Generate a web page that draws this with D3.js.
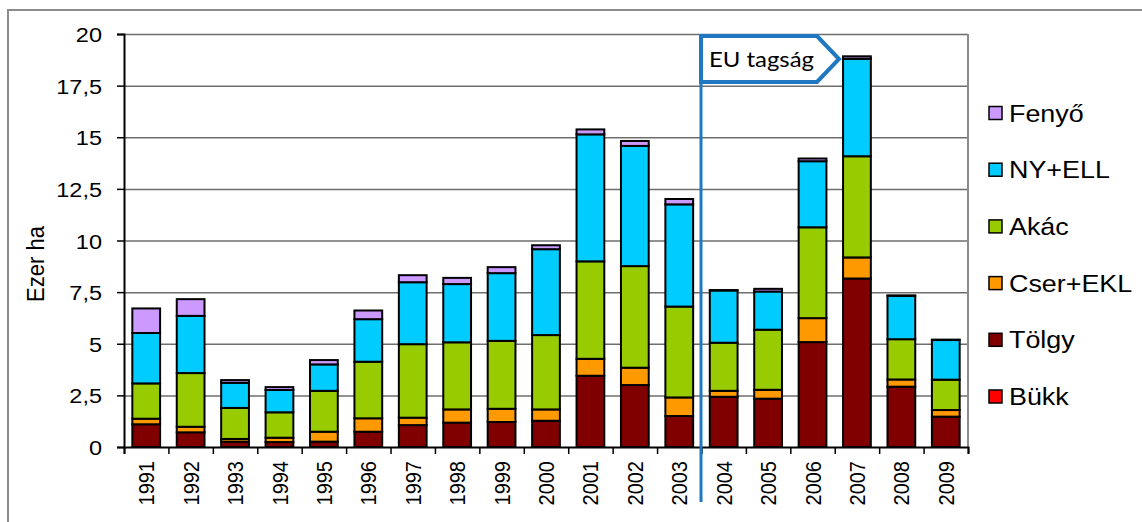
<!DOCTYPE html>
<html>
<head>
<meta charset="utf-8">
<script src="https://cdn.jsdelivr.net/npm/d3@7"></script>
<style>
  body { margin: 0; background: #fff; }
  svg { display: block; font-family: "Liberation Sans", Arial, sans-serif; }
</style>
</head>
<body>
<svg width="1142" height="522"></svg>
<script>
// years on the x axis
const years = ["1991","1992","1993","1994","1995","1996","1997","1998","1999","2000",
               "2001","2002","2003","2004","2005","2006","2007","2008","2009"];

// series values, thousand ha
const bukk  = [0,0,0,0,0,0,0,0,0,0,0,0,0,0,0,0,0,0,0];
const tolgy = [1.10,0.71,0.26,0.24,0.26,0.74,1.06,1.18,1.21,1.27,3.45,3.00,1.50,2.43,2.34,5.08,8.16,2.92,1.47];
const cser  = [0.27,0.27,0.13,0.21,0.48,0.65,0.36,0.64,0.64,0.55,0.82,0.84,0.90,0.29,0.43,1.16,1.02,0.35,0.32];
const akac  = [1.71,2.60,1.50,1.23,1.98,2.74,3.56,3.25,3.29,3.60,4.72,4.92,4.40,2.33,2.91,4.40,4.90,1.95,1.47];
const nyell = [2.44,2.77,1.22,1.08,1.28,2.06,3.00,2.82,3.28,4.16,6.15,5.82,4.95,2.53,1.85,3.20,4.72,2.10,1.92];
const fenyo = [1.19,0.81,0.13,0.14,0.21,0.42,0.34,0.30,0.29,0.19,0.24,0.24,0.26,0.02,0.13,0.13,0.12,0.02,0.02];

const yTicks = [0, 2.5, 5, 7.5, 10, 12.5, 15, 17.5, 20];

// bottom to top
const seriesNames  = ["Bükk", "Tölgy", "Cser+EKL", "Akác", "NY+ELL", "Fenyő"];
const seriesValues = [bukk, tolgy, cser, akac, nyell, fenyo];
const seriesColors = ["#ff0000", "#800000", "#ff9900", "#99cc00", "#00ccff", "#cc99ff"];

const table = years.map((yr, i) => {
  const row = { year: yr };
  seriesNames.forEach((n, k) => row[n] = seriesValues[k][i]);
  return row;
});

const plotL = 124, plotR = 968, plotT = 34, plotB = 447;
const sx = 1.12; // picture is a bit wider than tall

const svg = d3.select("svg");

// outer frame
svg.append("rect")
   .attr("x", 8).attr("y", 10)
   .attr("width", 1150).attr("height", 530)
   .attr("fill", "none")
   .attr("stroke", "#8c8c8c")
   .attr("stroke-width", 2);

const x = d3.scaleBand()
            .domain(years)
            .range([plotL, plotR])
            .paddingInner(0.375)
            .paddingOuter(0.1875);

const y = d3.scaleLinear()
            .domain([0, 20])
            .range([plotB, plotT]);

const color = d3.scaleOrdinal().domain(seriesNames).range(seriesColors);

// gridlines
svg.append("g")
   .attr("transform", `translate(${plotL},0)`)
   .call(d3.axisLeft(y).tickValues(yTicks.slice(1)).tickSize(-(plotR - plotL)).tickFormat(""))
   .call(g => g.select(".domain").remove())
   .call(g => g.selectAll("line").attr("stroke", "#6e6e6e").attr("stroke-width", 1.5));

// plot area right edge
svg.append("line")
   .attr("x1", plotR).attr("x2", plotR)
   .attr("y1", plotT).attr("y2", plotB)
   .attr("stroke", "#8c8c8c").attr("stroke-width", 2);

// stacked bars
const stacked = d3.stack().keys(seriesNames)(table);

svg.append("g")
   .selectAll("g")
   .data(stacked)
   .join("g")
   .attr("fill", d => color(d.key))
   .selectAll("rect")
   .data(d => d)
   .join("rect")
   .attr("x", d => x(d.data.year))
   .attr("y", d => y(d[1]))
   .attr("width", x.bandwidth())
   .attr("height", d => y(d[0]) - y(d[1]))
   .attr("stroke", "#000")
   .attr("stroke-width", 2);

// y axis
svg.append("g")
   .attr("transform", `translate(${plotL},0)`)
   .call(d3.axisLeft(y).tickValues(yTicks).tickSize(7).tickFormat(d => String(d).replace(".", ",")))
   .call(g => g.select(".domain").attr("stroke", "#000").attr("stroke-width", 2))
   .call(g => g.selectAll(".tick line").attr("stroke", "#000").attr("stroke-width", 1.5))
   .call(g => g.selectAll("text")
               .attr("x", 0)
               .attr("dy", "0.36em")
               .attr("transform", `translate(-22,0) scale(${sx},1)`)
               .attr("fill", "#000")
               .style("font-size", "21px")
               .style("font-family", "Liberation Sans, Arial, sans-serif"));

// x axis: tick marks between categories
const xb = d3.scaleLinear().domain([0, years.length]).range([plotL, plotR]);
svg.append("g")
   .attr("transform", `translate(0,${plotB})`)
   .call(d3.axisBottom(xb).ticks(years.length).tickSize(7).tickFormat(""))
   .call(g => g.select(".domain").attr("stroke", "#000").attr("stroke-width", 2))
   .call(g => g.selectAll(".tick line").attr("stroke", "#000").attr("stroke-width", 1.5));

// x axis: year labels
svg.append("g")
   .attr("transform", `translate(0,${plotB})`)
   .call(d3.axisBottom(x).tickSize(0))
   .call(g => g.select(".domain").remove())
   .call(g => g.selectAll("text")
               .attr("y", 0)
               .attr("dy", "0.36em")
               .attr("text-anchor", "end")
               .attr("transform", `translate(0,14) scale(${sx},1) rotate(-90)`)
               .attr("fill", "#000")
               .style("font-size", "20px")
               .style("font-family", "Liberation Sans, Arial, sans-serif"));

// y title
svg.append("text")
   .attr("transform", `translate(44,264) scale(${sx},1) rotate(-90)`)
   .attr("text-anchor", "middle")
   .style("font-size", "22px")
   .text("Ezer ha");

// EU membership marker
const euX = 701;
svg.append("line")
   .attr("x1", euX).attr("x2", euX)
   .attr("y1", 36).attr("y2", 502)
   .attr("stroke", "#1f78c1").attr("stroke-width", 3);

svg.append("path")
   .attr("d", `M${euX},36 H817 L839,59 L817,82 H${euX} Z`)
   .attr("fill", "#fff")
   .attr("stroke", "#1f78c1")
   .attr("stroke-width", 4)
   .attr("stroke-linejoin", "miter");

svg.append("text")
   .attr("x", 709).attr("y", 67)
   .attr("textLength", 105)
   .attr("lengthAdjust", "spacingAndGlyphs")
   .style("font-family", "Lato, 'Open Sans', sans-serif")
   .style("font-size", "21px")
   .text("EU tagság");

// legend, top entry is the top of the stack
const legend = svg.append("g")
   .selectAll("g")
   .data(seriesNames.slice().reverse())
   .join("g")
   .attr("transform", (d, i) => `translate(989,${113 + i * 56.7})`);

legend.append("rect")
   .attr("x", 0).attr("y", -6.5)
   .attr("width", 13).attr("height", 13)
   .attr("fill", d => color(d))
   .attr("stroke", "#000")
   .attr("stroke-width", 1.5);

legend.append("text")
   .attr("transform", `translate(20,0) scale(${sx},1)`)
   .attr("dy", "0.36em")
   .style("font-size", "24px")
   .text(d => d);
</script>
</body>
</html>
